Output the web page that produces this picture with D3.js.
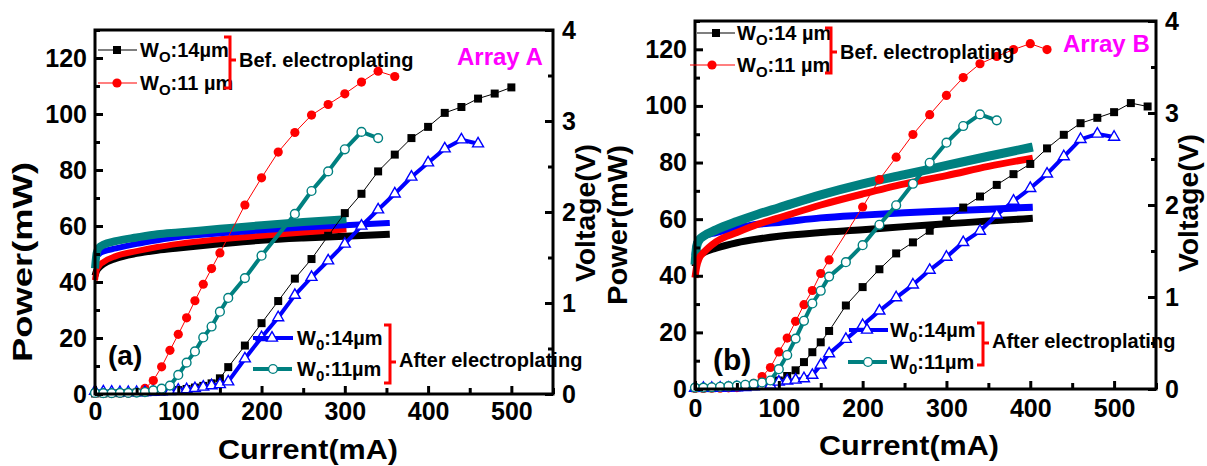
<!DOCTYPE html>
<html><head><meta charset="utf-8">
<script src="https://cdn.jsdelivr.net/npm/d3@7"></script>
<style>
body{margin:0;background:#fff}
text{font-family:'Liberation Sans',Arial,sans-serif;font-weight:bold}
</style>
</head><body>
<svg id="c" width="1207" height="466"></svg>
<script>
// ---------- tick labels ----------
const xTicks = [0,100,200,300,400,500];
const xMinor = [50,150,250,350,450,550];
const pTicks = [0,20,40,60,80,100,120];
const pMinor = [10,30,50,70,90,110,130];
const vTicks = [0,1,2,3,4];
const vMinor = [0.5,1.5,2.5,3.5];

// ---------- Panel A: power (mA, mW) ----------
const aBef14 = [[0,0.2],[10,0.2],[20,0.3],[30,0.3],[40,0.4],[50,0.5],[60,0.6],[70,0.7],[80,0.9],[90,1.1],[100,1.4],[110,1.8],[120,2.3],[130,2.9],[140,3.8],[150,5.6],[160,9.6],[180,17.3],[200,25.3],[220,33.2],[240,41.2],[260,48.2],[280,56.5],[300,64.6],[320,71.5],[340,79.5],[360,85.5],[380,91.4],[400,95.4],[420,100.4],[440,102.5],[460,105.5],[480,107.3],[500,109.5]];
const aBef11 = [[0,0.2],[10,0.2],[20,0.2],[30,0.3],[40,0.3],[50,0.6],[60,2.0],[70,4.8],[80,9.7],[90,15.6],[100,21.3],[110,27.2],[120,33.3],[130,39.2],[140,44.8],[150,50.4],[180,67.5],[200,77.2],[220,86.4],[240,93.4],[260,99.6],[280,103.4],[300,107.2],[320,111.4],[340,115.3],[360,113.4]];
const aAft14 = [[0,1.0],[10,0.8],[20,0.7],[30,0.6],[40,0.6],[50,0.6],[60,0.6],[70,0.7],[80,0.8],[90,0.9],[100,1.4],[110,1.6],[120,2.0],[130,2.5],[140,3.0],[150,3.4],[160,4.4],[180,12.6],[200,20.2],[220,27.3],[240,35.3],[260,41.7],[280,47.6],[300,53.6],[320,60.0],[340,65.8],[360,71.5],[380,77.5],[400,82.6],[420,87.6],[440,90.8],[460,89.4]];
const aAft11 = [[0,0.4],[10,0.3],[20,0.3],[30,0.4],[40,0.4],[50,0.5],[60,0.7],[70,1.3],[80,1.9],[90,3.0],[100,6.8],[110,11.2],[120,15.2],[130,20.2],[140,24.1],[150,29.4],[160,34.3],[180,41.4],[200,49.4],[240,64.3],[260,72.5],[280,79.5],[300,87.4],[320,93.6],[340,91.4]];

// ---------- Panel A: voltage (mA, V) ----------
const aVBef14 = [[0,1.30],[2,1.355],[5,1.39],[10,1.43],[25,1.49],[50,1.545],[75,1.58],[100,1.605],[150,1.65],[200,1.69],[250,1.715],[300,1.733],[354,1.755]];
const aVBef11 = [[0,1.25],[2,1.36],[5,1.41],[10,1.45],[25,1.515],[50,1.57],[75,1.615],[100,1.65],[150,1.70],[200,1.74],[250,1.775],[302,1.807]];
const aVAft14 = [[0,1.42],[2,1.50],[5,1.54],[10,1.565],[25,1.60],[50,1.65],[75,1.69],[100,1.725],[150,1.765],[200,1.80],[250,1.83],[300,1.855],[354,1.88]];
const aVAft11 = [[0,1.38],[2,1.55],[5,1.61],[10,1.64],[25,1.68],[50,1.72],[75,1.755],[100,1.775],[150,1.815],[200,1.855],[250,1.89],[302,1.92]];

// ---------- Panel B: power (mA, mW) ----------
const bBef14 = [[0,0.3],[10,0.3],[20,0.3],[30,0.4],[40,0.5],[50,0.6],[60,0.8],[70,1.0],[80,1.4],[90,2.0],[100,3.0],[110,4.6],[120,6.6],[130,9.5],[140,13.0],[150,16.5],[160,20.5],[180,29.5],[200,36.0],[220,42.3],[240,47.9],[260,51.8],[280,55.9],[300,59.6],[320,64.1],[340,68.0],[360,72.1],[380,75.9],[400,79.5],[420,85.0],[440,89.8],[460,93.9],[480,95.8],[500,97.8],[520,101.0],[540,99.8]];
const bBef11 = [[0,0.2],[10,0.2],[20,0.3],[30,0.3],[40,0.4],[50,0.5],[60,0.9],[70,2.0],[80,4.4],[90,7.6],[100,13.1],[110,18.0],[120,23.9],[130,29.8],[140,34.8],[150,40.8],[160,45.6],[200,64.3],[220,74.0],[240,81.9],[260,89.9],[280,96.9],[300,103.7],[320,110.0],[340,114.9],[360,117.5],[380,119.9],[400,122.0],[420,119.9]];
const bAft14 = [[0,0.3],[10,0.3],[20,0.3],[30,0.4],[40,0.4],[50,0.5],[60,0.6],[70,0.8],[80,1.0],[90,1.4],[100,2.5],[110,2.9],[120,3.2],[130,3.7],[140,4.9],[150,8.5],[160,12.5],[180,17.6],[200,22.5],[220,27.6],[240,32.3],[260,36.8],[280,42.0],[300,46.6],[320,51.8],[340,55.8],[360,61.5],[380,66.4],[400,70.9],[420,76.0],[440,82.1],[460,88.2],[480,90.1],[500,89.0]];
const bAft11 = [[0,0.5],[10,0.5],[20,0.6],[30,0.8],[40,1.0],[50,1.2],[60,1.5],[70,1.8],[80,2.3],[90,3.0],[100,7.0],[110,12.0],[120,17.8],[130,24.1],[140,30.2],[150,34.7],[160,39.7],[180,44.8],[200,50.8],[220,58.0],[240,64.9],[260,72.5],[280,79.9],[300,87.0],[320,92.9],[340,97.0],[360,94.9]];

// ---------- Panel B: voltage (mA, V) ----------
const bVBef14 = [[0,1.33],[2,1.40],[5,1.45],[10,1.48],[25,1.53],[50,1.59],[75,1.63],[100,1.66],[150,1.70],[200,1.73],[250,1.765],[300,1.795],[350,1.825],[403,1.855]];
const bVBef11 = [[0,1.21],[2,1.33],[5,1.42],[10,1.48],[25,1.60],[50,1.70],[75,1.79],[100,1.86],[150,2.00],[200,2.12],[250,2.23],[300,2.32],[350,2.42],[403,2.51]];
const bVAft14 = [[0,1.45],[2,1.58],[5,1.63],[10,1.66],[25,1.70],[50,1.75],[75,1.79],[100,1.81],[150,1.86],[200,1.89],[250,1.915],[300,1.935],[350,1.955],[403,1.975]];
const bVAft11 = [[0,1.35],[2,1.55],[5,1.62],[10,1.66],[25,1.73],[50,1.82],[75,1.90],[100,1.97],[150,2.11],[200,2.23],[250,2.33],[300,2.43],[350,2.53],[403,2.63]];

// ---------- colours ----------
const BLACK = '#000000', RED = '#ff0000', BLUE = '#0000ff', TEAL = '#008080', MAGENTA = '#ff00ff';

const svg = d3.select('#c');

function marker(g, type, color, cx, cy) {
  if (type === 'square') {
    g.append('path').attr('d', d3.symbol(d3.symbolSquare, 64)()).attr('transform', `translate(${cx},${cy})`).attr('fill', color);
  } else if (type === 'dot') {
    g.append('circle').attr('cx', cx).attr('cy', cy).attr('r', 4.6).attr('fill', color);
  } else if (type === 'ocircle') {
    g.append('circle').attr('cx', cx).attr('cy', cy).attr('r', 4.4).attr('fill', '#fff').attr('stroke', color).attr('stroke-width', 1.4);
  } else if (type === 'otri') {
    g.append('path').attr('d', d3.symbol(d3.symbolTriangle, 52)()).attr('transform', `translate(${cx},${cy})`).attr('fill', '#fff').attr('stroke', color).attr('stroke-width', 1.4);
  }
}

function wLabel(g, x, y, sub, rest) {
  const t = g.append('text').attr('x', x).attr('y', y).attr('font-size', 20).attr('fill', '#000');
  t.append('tspan').text('W');
  t.append('tspan').attr('font-size', 15).attr('dy', 5).text(sub);
  t.append('tspan').attr('dy', -5).text(rest);
}

function bracket(g, x, top, bot, mid) {
  g.append('path').attr('d', `M${x-6},${top}H${x}V${bot}H${x-6}M${x},${mid}H${x+6}`)
    .attr('fill', 'none').attr('stroke', RED).attr('stroke-width', 3);
}

function vTitle(g, cx, cy, len, txt) {
  g.append('text').attr('transform', `translate(${cx},${cy}) rotate(-90)`)
    .attr('x', -len / 2).attr('dy', '0.35em').attr('font-size', 27)
    .attr('textLength', len).attr('lengthAdjust', 'spacingAndGlyphs').text(txt);
}

function drawPanel(P) {
  const x = d3.scaleLinear([0, 550], [P.l, P.r]);
  const y = d3.scaleLinear([0, 130], [P.b, P.t]);
  const yv = d3.scaleLinear([0, 4], [P.b, P.t]);
  const g = svg.append('g');

  // voltage bands
  const vline = d3.line().x(d => x(d[0])).y(d => yv(d[1])).curve(d3.curveMonotoneX);
  P.volts.forEach(s => {
    g.append('path').datum(s.data).attr('d', vline).attr('fill', 'none')
      .attr('stroke', s.color).attr('stroke-width', s.w).attr('stroke-linejoin', 'round');
  });

  // power curves
  const pline = d3.line().x(d => x(d[0])).y(d => y(d[1]));
  P.powers.forEach(s => {
    g.append('path').datum(s.data).attr('d', pline).attr('fill', 'none')
      .attr('stroke', s.color).attr('stroke-width', s.w).attr('stroke-linejoin', 'round');
    s.data.forEach(d => marker(g, s.type, s.color, x(d[0]), y(d[1])));
  });

  // frame
  g.append('rect').attr('x', P.l).attr('y', P.t).attr('width', P.r - P.l).attr('height', P.b - P.t)
    .attr('fill', 'none').attr('stroke', '#000').attr('stroke-width', 3);

  const styleAxis = sel => {
    sel.select('.domain').remove();
    sel.selectAll('line').attr('stroke', '#000').attr('stroke-width', 3);
    sel.selectAll('text').attr('font-size', 25).attr('font-weight', 'bold')
      .attr('font-family', "'Liberation Sans',Arial,sans-serif").attr('fill', '#000');
  };

  g.append('g').attr('transform', `translate(${P.l},0)`)
    .call(d3.axisLeft(y).tickValues(pTicks).tickSize(-8).tickPadding(8).tickFormat(d3.format('d'))).call(styleAxis);
  g.append('g').attr('transform', `translate(${P.l},0)`)
    .call(d3.axisLeft(y).tickValues(pMinor).tickSize(-5).tickFormat('')).call(styleAxis);
  g.append('g').attr('transform', `translate(${P.r},0)`)
    .call(d3.axisRight(yv).tickValues(vTicks).tickSize(-8).tickPadding(9).tickFormat(d3.format('d'))).call(styleAxis);
  g.append('g').attr('transform', `translate(${P.r},0)`)
    .call(d3.axisRight(yv).tickValues(vMinor).tickSize(-5).tickFormat('')).call(styleAxis);
  g.append('g').attr('transform', `translate(0,${P.b})`)
    .call(d3.axisBottom(x).tickValues(xTicks).tickSize(-8).tickPadding(P.xpad).tickFormat(d3.format('d'))).call(styleAxis);
  g.append('g').attr('transform', `translate(0,${P.b})`)
    .call(d3.axisBottom(x).tickValues(xMinor).tickSize(-6).tickFormat('')).call(styleAxis);

  // axis titles
  g.append('text').attr('x', P.xTitle[0] - 90).attr('y', P.xTitle[1]).attr('font-size', 27)
    .attr('textLength', 180).attr('lengthAdjust', 'spacingAndGlyphs').text('Current(mA)');
  vTitle(g, P.pTitle[0], P.pTitle[1], P.pTitle[2], 'Power(mW)');
  vTitle(g, P.vTitle[0], P.vTitle[1], P.vTitle[2], 'Voltage(V)');

  // panel tag and array name
  g.append('text').attr('x', P.tag[0]).attr('y', P.tag[1]).attr('font-size', P.tag[2]).text(P.tagText);
  g.append('text').attr('x', P.arr[0]).attr('y', P.arr[1]).attr('font-size', 24).attr('fill', MAGENTA).text(P.arrText);

  // legend: before electroplating
  const L = P.leg;
  g.append('line').attr('x1', L.b1[0]).attr('x2', L.b1[1]).attr('y1', L.b1[3]).attr('y2', L.b1[3]).attr('stroke', BLACK).attr('stroke-width', 1.2);
  marker(g, 'square', BLACK, L.b1[2], L.b1[3]);
  g.append('line').attr('x1', L.b2[0]).attr('x2', L.b2[1]).attr('y1', L.b2[3]).attr('y2', L.b2[3]).attr('stroke', RED).attr('stroke-width', 1.2);
  marker(g, 'dot', RED, L.b2[2], L.b2[3]);
  wLabel(g, L.bx, L.b1[3] + 7, 'O', L.b1t);
  wLabel(g, L.bx, L.b2[3] + 7, 'O', L.b2t);
  bracket(g, L.bBr[0], L.bBr[1], L.bBr[2], L.bBr[3]);
  g.append('text').attr('x', L.bBr[0] + 9).attr('y', L.bBr[3] + 7.2).attr('font-size', 20).text('Bef. electroplating');

  // legend: after electroplating
  g.append('line').attr('x1', L.a1[0]).attr('x2', L.a1[1]).attr('y1', L.a1[3]).attr('y2', L.a1[3]).attr('stroke', BLUE).attr('stroke-width', 4);
  marker(g, 'otri', BLUE, L.a1[2], L.a1[3]);
  g.append('line').attr('x1', L.a2[0]).attr('x2', L.a2[1]).attr('y1', L.a2[3]).attr('y2', L.a2[3]).attr('stroke', TEAL).attr('stroke-width', 4);
  marker(g, 'ocircle', TEAL, L.a2[2], L.a2[3]);
  wLabel(g, L.ax, L.a1[3] + 7, '0', ':14µm');
  wLabel(g, L.ax, L.a2[3] + 7, '0', ':11µm');
  bracket(g, L.aBr[0], L.aBr[1], L.aBr[2], L.aBr[3]);
  g.append('text').attr('x', L.aBr[0] + 9).attr('y', L.aBr[3] + 5).attr('font-size', 20).text('After electroplating');
}

const panels = [
  {
    l: 95, r: 553, t: 30, b: 394, xpad: 8, xTitle: [308, 459],
    pTitle: [23, 262, 200], vTitle: [586, 213, 138],
    tag: [108, 365, 28], tagText: '(a)', arr: [457, 65], arrText: 'Array A',
    volts: [
      {data: aVBef14, color: BLACK, w: 7},
      {data: aVBef11, color: RED, w: 6},
      {data: aVAft14, color: BLUE, w: 6},
      {data: aVAft11, color: TEAL, w: 8}
    ],
    powers: [
      {data: aBef14, color: BLACK, w: 1, type: 'square'},
      {data: aBef11, color: RED, w: 1, type: 'dot'},
      {data: aAft14, color: BLUE, w: 4, type: 'otri'},
      {data: aAft11, color: TEAL, w: 4, type: 'ocircle'}
    ],
    leg: {
      b1: [98, 137, 117, 50], b2: [98, 137, 117, 83], bx: 140, b1t: ':14µm', b2t: ':11 µm',
      bBr: [230, 37, 88, 60],
      a1: [253, 293, 272, 338], a2: [253, 292, 273, 369], ax: 297,
      aBr: [390, 325, 383, 362]
    }
  },
  {
    l: 695, r: 1156, t: 21, b: 389, xpad: 10, xTitle: [909, 455],
    pTitle: [618, 225, 160], vTitle: [1189, 203, 138],
    tag: [713, 370, 30], tagText: '(b)', arr: [1063, 52], arrText: 'Array B',
    volts: [
      {data: bVBef14, color: BLACK, w: 7},
      {data: bVAft14, color: BLUE, w: 7},
      {data: bVAft11, color: TEAL, w: 9},
      {data: bVBef11, color: RED, w: 7}
    ],
    powers: [
      {data: bBef14, color: BLACK, w: 1, type: 'square'},
      {data: bBef11, color: RED, w: 1, type: 'dot'},
      {data: bAft14, color: BLUE, w: 4, type: 'otri'},
      {data: bAft11, color: TEAL, w: 4, type: 'ocircle'}
    ],
    leg: {
      b1: [697, 735, 716, 33], b2: [690, 735, 712, 65], bx: 737, b1t: ':14 µm', b2t: ':11 µm',
      bBr: [831, 28, 73, 52],
      a1: [849, 888, 867, 330], a2: [848, 887, 868, 362], ax: 890,
      aBr: [983, 323, 365, 343]
    }
  }
];

panels.forEach(drawPanel);
</script>
</body></html>
